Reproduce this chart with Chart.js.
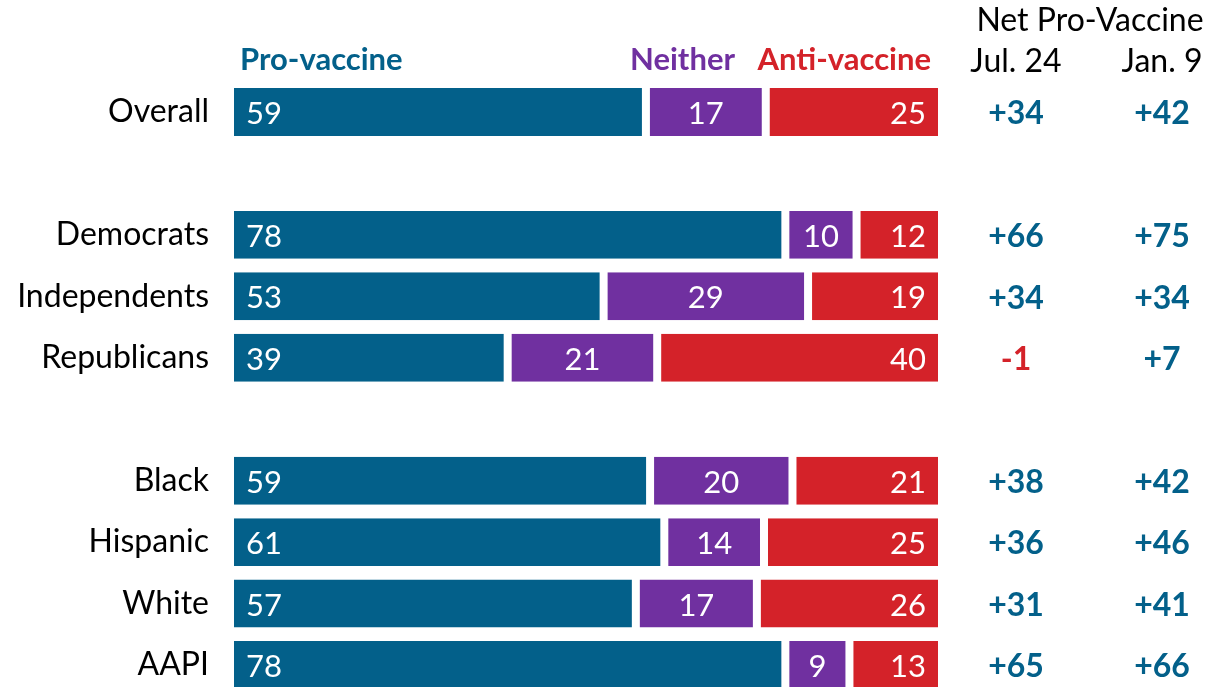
<!DOCTYPE html>
<html>
<head>
<meta charset="utf-8">
<script src="https://cdn.jsdelivr.net/npm/chart.js@4"></script>
<style>
  html, body { margin: 0; padding: 0; background: #fff; overflow: hidden; }
  #wrap { width: 1206px; height: 687px; }
</style>
</head>
<body>
<div id="wrap"><canvas id="chart" width="1206" height="687"></canvas></div>
<script>
// groups, blank rows give the gaps between groups
const groups = ['Overall', '', 'Democrats', 'Independents', 'Republicans', '', 'Black', 'Hispanic', 'White', 'AAPI'];
const proVaccine = [59, null, 78, 53, 39, null, 59, 61, 57, 78];
const neither = [17, null, 10, 29, 21, null, 20, 14, 17, 9];
const antiVaccine = [25, null, 12, 19, 40, null, 21, 25, 26, 13];
const netJul24 = [34, null, 66, 34, -1, null, 38, 36, 31, 65];
const netJan9 = [42, null, 75, 34, 7, null, 42, 46, 41, 66];

const BLUE = '#03608a';
const PURPLE = '#7030a0';
const RED = '#d42229';
const FONT = 'Lato, "Open Sans", sans-serif';

// bars fill the full width: each row is shown as share of its total
function share(arr) {
    return arr.map((v, i) => {
        if (v === null) return null;
        const tot = proVaccine[i] + neither[i] + antiVaccine[i];
        return v / tot * 100;
    });
}

function fmtNet(v) {
    return v > 0 ? '+' + v : String(v);
}

const textPlugin = {
    id: 'texts',
    afterDatasetsDraw(chart) {
        const ctx = chart.ctx;
        const y = chart.scales.y;
        ctx.save();
        ctx.textBaseline = 'middle';

        // values inside bars
        ctx.font = '31px ' + FONT;
        ctx.fillStyle = '#fff';
        const raw = [proVaccine, neither, antiVaccine];
        chart.data.datasets.forEach((ds, di) => {
            const meta = chart.getDatasetMeta(di);
            meta.data.forEach((bar, i) => {
                if (raw[di][i] === null) return;
                const p = bar.getProps(['x', 'y', 'base'], true);
                const txt = String(raw[di][i]);
                if (di === 0) {
                    ctx.textAlign = 'left';
                    ctx.fillText(txt, p.base + 16, p.y + 2);
                } else if (di === 1) {
                    ctx.textAlign = 'center';
                    ctx.fillText(txt, (p.base + p.x) / 2, p.y + 2);
                } else {
                    ctx.textAlign = 'right';
                    ctx.fillText(txt, p.x - 16, p.y + 2);
                }
            });
        });

        // legend labels
        ctx.font = 'bold 31px ' + FONT;
        ctx.textAlign = 'left';
        ctx.fillStyle = BLUE;
        ctx.fillText('Pro-vaccine', 240, 60);
        ctx.textAlign = 'right';
        ctx.fillStyle = PURPLE;
        ctx.fillText('Neither', 735, 60);
        ctx.fillStyle = RED;
        ctx.fillText('Anti-vaccine', 931, 60);

        // net columns
        ctx.textAlign = 'center';
        ctx.font = '32px ' + FONT;
        ctx.fillStyle = '#000';
        ctx.fillText('Net Pro-Vaccine', 1090, 21);
        ctx.fillText('Jul. 24', 1016, 62);
        ctx.fillText('Jan. 9', 1162, 62);

        ctx.font = 'bold 32px ' + FONT;
        groups.forEach((g, i) => {
            if (netJul24[i] === null) return;
            const py = y.getPixelForValue(i) + 2;
            ctx.fillStyle = netJul24[i] < 0 ? RED : BLUE;
            ctx.fillText(fmtNet(netJul24[i]), 1016, py);
            ctx.fillStyle = netJan9[i] < 0 ? RED : BLUE;
            ctx.fillText(fmtNet(netJan9[i]), 1162, py);
        });
        ctx.restore();
    }
};

function barSet(label, arr, color) {
    return {
        label: label,
        data: share(arr),
        backgroundColor: color,
        borderColor: '#fff',
        borderWidth: { left: 4, right: 4, top: 0, bottom: 0 },
        borderSkipped: false,
        barPercentage: 0.78,
        categoryPercentage: 1,
        clip: false
    };
}

new Chart(document.getElementById('chart'), {
    type: 'bar',
    data: {
        labels: groups,
        datasets: [
            barSet('Pro-vaccine', proVaccine, BLUE),
            barSet('Neither', neither, PURPLE),
            barSet('Anti-vaccine', antiVaccine, RED)
        ]
    },
    options: {
        indexAxis: 'y',
        responsive: false,
        animation: false,
        events: [],
        layout: { padding: { top: 112, bottom: 22, left: 0, right: 264 } },
        plugins: { legend: { display: false }, tooltip: { enabled: false } },
        scales: {
            x: {
                stacked: true,
                min: 0,
                max: 100,
                display: false
            },
            y: {
                stacked: true,
                offset: false,
                grid: { display: false, drawTicks: false },
                border: { display: false },
                ticks: {
                    color: '#000',
                    padding: 21,
                    font: { family: FONT, size: 32 }
                },
                afterFit(scale) {
                    scale.width = 230;
                    scale.paddingTop = 0;
                    scale.paddingBottom = 0;
                }
            }
        }
    },
    plugins: [textPlugin]
});
</script>
</body>
</html>
